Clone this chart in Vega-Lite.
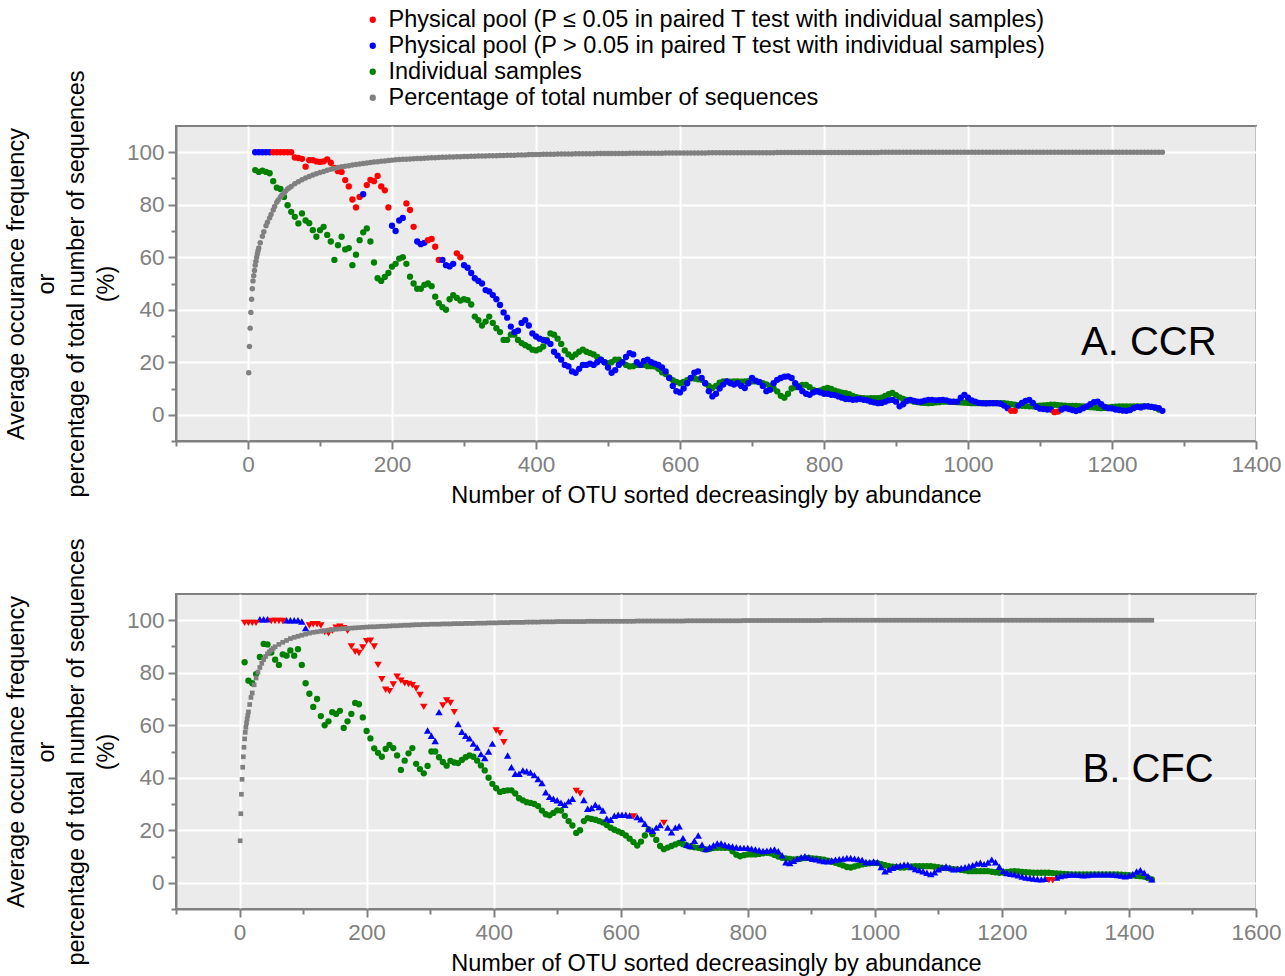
{
"$schema":"https://vega.github.io/schema/vega-lite/v6.json",
"padding":{"left":3,"top":8,"right":5,"bottom":3},
"config":{
"view":{"fill":"#EBEBEB","stroke":"#808080","strokeWidth":2},
"axis":{"domainColor":"#808080","domainWidth":2,"tickColor":"#808080","tickWidth":2,"labelColor":"#808080","labelFont":"Liberation Sans","labelFontSize":22.5,"titleFont":"Liberation Sans","titleFontSize":23.5,"titleFontWeight":"normal","titleColor":"#000000","gridColor":"#FFFFFF","gridWidth":2,"labelPadding":4,"tickSize":8,"labelOverlap":false,"labelFlush":false},
"legend":{"title":null,"symbolType":"circle","symbolSize":40,"labelFont":"Liberation Sans","labelFontSize":23.5,"labelColor":"#000000","rowPadding":1,"labelOffset":4,"labelLimit":0,"padding":0},
"circle":{"opacity":1},"square":{"opacity":1},"point":{"opacity":1,"filled":true}
},
"resolve":{"scale":{"color":"shared"},"legend":{"color":"shared"}},
"spacing":153,
"bounds":"flush",
"datasets":{
"A":[
{"x":1,"g":16},{"x":2,"g":26},{"x":3,"g":33},{"x":4,"g":39},{"x":5,"g":44},{"x":6,"g":48},{"x":7,"g":51},{"x":8,"g":53},{"x":9,"g":55},
{"x":11,"g":58.5},{"x":12,"g":60},{"x":13,"g":61.3},{"x":14,"g":62.5},{"x":17,"g":65.5},{"x":22,"g":69.7},{"x":27,"g":73.3},{"x":32,"g":76.3},{"x":37,"g":79.3},{"x":42,"g":81.8},{"x":47,"g":83.6},{"x":52,"g":85.1},{"x":57,"g":86.4},
{"x":10,"s":"b","p":100,"i":93.2,"g":57},
{"x":15,"s":"b","p":100,"i":92.5,"g":63.5},
{"x":20,"s":"b","p":100,"i":93,"g":68},
{"x":25,"s":"b","p":100,"i":92.5,"g":72},
{"x":30,"s":"b","p":100,"i":92,"g":75},
{"x":35,"s":"r","p":100,"i":89,"g":78},
{"x":40,"s":"r","p":100,"i":86.5,"g":81},
{"x":45,"s":"r","p":100,"i":86,"g":83},
{"x":50,"s":"r","p":100,"i":83,"g":84.5},
{"x":55,"s":"r","p":100,"i":79.8,"g":86},
{"x":60,"s":"r","p":100,"i":77.3,"g":87},
{"x":65,"s":"r","p":98,"i":75.4,"g":88},
{"x":70,"s":"r","p":97.8,"i":72.9,"g":88.8},
{"x":75,"s":"r","p":97.5,"i":76.7,"g":89.5},
{"x":80,"s":"r","p":94.5,"i":74,"g":90.2},
{"x":85,"s":"r","p":97,"i":73,"g":90.8},
{"x":90,"s":"r","p":97,"i":70.3,"g":91.3},
{"x":95,"s":"r","p":96.5,"i":67.8,"g":91.8},
{"x":100,"s":"r","p":96.3,"i":70.3,"g":92.3},
{"x":105,"s":"r","p":96.5,"i":71.6,"g":92.7},
{"x":110,"s":"r","p":97.3,"i":68.5,"g":93.1},
{"x":115,"s":"r","p":96,"i":66,"g":93.5},
{"x":120,"s":"r","p":94,"i":59,"g":93.8},
{"x":125,"s":"r","p":92.8,"i":64.6,"g":94.2},
{"x":130,"s":"r","p":92.5,"i":67.8,"g":94.5},
{"x":135,"s":"r","p":89.4,"i":63,"g":94.7},
{"x":140,"s":"r","p":87,"i":63.5,"g":94.9},
{"x":145,"s":"r","p":82,"i":57,"g":95.1},
{"x":150,"s":"r","p":79,"i":61,"g":95.3},
{"x":155,"s":"r","p":83,"i":66.5,"g":95.5},
{"x":160,"s":"b","p":84,"i":69.5,"g":95.7},
{"x":165,"s":"r","p":87.5,"i":71,"g":95.9},
{"x":170,"s":"r","p":89.5,"i":66,"g":96.1},
{"x":175,"s":"r","p":89,"i":58,"g":96.3},
{"x":180,"s":"r","p":91,"i":52,"g":96.4},
{"x":185,"s":"r","p":87,"i":51,"g":96.6},
{"x":190,"s":"r","p":85.5,"i":52.5,"g":96.7},
{"x":195,"s":"r","p":79,"i":54,"g":96.9},
{"x":200,"s":"b","p":72,"i":56.4,"g":97},
{"x":205,"s":"b","p":70,"i":57.5,"g":97.1},
{"x":210,"s":"b","p":74,"i":59.5,"g":97.2},
{"x":215,"s":"b","p":75,"i":60,"g":97.3},
{"x":220,"s":"r","p":80.5,"i":57.5,"g":97.3},
{"x":225,"s":"r","p":78,"i":52.6,"g":97.4},
{"x":230,"s":"r","p":71.6,"i":50,"g":97.5},
{"x":235,"s":"b","p":66,"i":48,"g":97.6},
{"x":240,"s":"b","p":65,"i":48,"g":97.6},
{"x":245,"s":"b","p":65.5,"i":49.5,"g":97.7},
{"x":250,"s":"r","p":66.5,"i":50,"g":97.8},
{"x":255,"s":"r","p":67,"i":49,"g":97.9},
{"x":260,"s":"r","p":64,"i":45,"g":97.9},
{"x":265,"s":"r","p":59,"i":42.5,"g":98},
{"x":270,"s":"b","p":59,"i":41,"g":98.1},
{"x":275,"s":"b","p":57,"i":40,"g":98.1},
{"x":280,"s":"b","p":56.5,"i":44,"g":98.2},
{"x":285,"s":"b","p":57.5,"i":45.6,"g":98.2},
{"x":290,"s":"r","p":61.5,"i":44.5,"g":98.3},
{"x":295,"s":"r","p":60,"i":43.5,"g":98.3},
{"x":300,"s":"b","p":57,"i":44,"g":98.4},
{"x":305,"s":"b","p":56,"i":43.7,"g":98.4},
{"x":310,"s":"b","p":54,"i":42,"g":98.5},
{"x":315,"s":"b","p":52,"i":37.4,"g":98.5},
{"x":320,"s":"b","p":51,"i":36,"g":98.6},
{"x":325,"s":"b","p":50,"i":34,"g":98.6},
{"x":330,"s":"b","p":47.5,"i":35.5,"g":98.6},
{"x":335,"s":"b","p":47,"i":37.4,"g":98.7},
{"x":340,"s":"b","p":45.6,"i":35,"g":98.7},
{"x":345,"s":"b","p":44,"i":33,"g":98.7},
{"x":350,"s":"b","p":41.8,"i":31.5,"g":98.8},
{"x":355,"s":"b","p":39,"i":28.5,"g":98.8},
{"x":360,"s":"b","p":37,"i":28.5,"g":98.9},
{"x":365,"s":"b","p":33.6,"i":30.5,"g":98.9},
{"x":370,"s":"b","p":31.5,"i":30.5,"g":98.9},
{"x":375,"s":"b","p":32,"i":28.5,"g":99},
{"x":380,"s":"b","p":35,"i":27.3,"g":99},
{"x":385,"s":"b","p":36,"i":26.5,"g":99},
{"x":390,"s":"b","p":34,"i":25.8,"g":99.1},
{"x":395,"s":"b","p":31,"i":24.8,"g":99.1},
{"x":400,"s":"b","p":29.8,"i":24.5,"g":99.1},
{"x":405,"s":"b","p":29,"i":25,"g":99.1},
{"x":410,"s":"b","p":28.5,"i":26,"g":99.2},
{"x":415,"s":"b","p":28,"i":28.5,"g":99.2},
{"x":420,"s":"b","p":27,"i":31,"g":99.2},
{"x":425,"s":"b","p":24,"i":30.5,"g":99.2},
{"x":430,"s":"b","p":22.5,"i":29,"g":99.3},
{"x":435,"s":"b","p":21,"i":27,"g":99.3},
{"x":440,"s":"b","p":19,"i":24.5,"g":99.3},
{"x":445,"s":"b","p":18.4,"i":23,"g":99.3},
{"x":450,"s":"b","p":16.5,"i":22,"g":99.3},
{"x":455,"s":"b","p":16,"i":23,"g":99.4},
{"x":460,"s":"b","p":17.5,"i":24,"g":99.4},
{"x":465,"s":"b","p":19,"i":24.8,"g":99.4},
{"x":470,"s":"b","p":19,"i":24,"g":99.4},
{"x":475,"s":"b","p":19.5,"i":23.5,"g":99.4},
{"x":480,"s":"b","p":19,"i":23,"g":99.4},
{"x":485,"s":"b","p":20,"i":22,"g":99.5},
{"x":490,"s":"b","p":21,"i":21,"g":99.5},
{"x":495,"s":"b","p":20,"i":20,"g":99.5},
{"x":500,"s":"b","p":18,"i":19.7,"g":99.5},
{"x":505,"s":"b","p":16,"i":20,"g":99.5},
{"x":510,"s":"b","p":17,"i":21,"g":99.5},
{"x":515,"s":"b","p":19,"i":21,"g":99.5},
{"x":520,"s":"b","p":20,"i":20,"g":99.5},
{"x":525,"s":"b","p":22,"i":19,"g":99.5},
{"x":530,"s":"b","p":23.5,"i":18.4,"g":99.6},
{"x":535,"s":"b","p":23,"i":18.5,"g":99.6},
{"x":540,"s":"b","p":20,"i":19,"g":99.6},
{"x":545,"s":"b","p":19,"i":19,"g":99.6},
{"x":550,"s":"b","p":20.5,"i":19,"g":99.6},
{"x":555,"s":"b","p":21,"i":18.5,"g":99.6},
{"x":560,"s":"b","p":20,"i":18.5,"g":99.6},
{"x":565,"s":"b","p":19.5,"i":18.4,"g":99.6},
{"x":570,"s":"b","p":19,"i":17.5,"g":99.6},
{"x":575,"s":"b","p":18,"i":16.2,"g":99.6},
{"x":580,"s":"b","p":16.5,"i":15.5,"g":99.7},
{"x":585,"s":"b","p":14,"i":14.2,"g":99.7},
{"x":590,"s":"b","p":11,"i":13.2,"g":99.7},
{"x":595,"s":"b","p":9,"i":12.5,"g":99.7},
{"x":600,"s":"b","p":8.5,"i":12,"g":99.7},
{"x":605,"s":"b","p":10,"i":12.5,"g":99.7},
{"x":610,"s":"b","p":12,"i":13.2,"g":99.7},
{"x":615,"s":"b","p":14,"i":13.9,"g":99.7},
{"x":620,"s":"b","p":16,"i":13.8,"g":99.7},
{"x":625,"s":"b","p":16.5,"i":13.5,"g":99.7},
{"x":630,"s":"b","p":14,"i":13.3,"g":99.7},
{"x":635,"s":"b","p":12,"i":12,"g":99.7},
{"x":640,"s":"b","p":9,"i":11,"g":99.8},
{"x":645,"s":"b","p":7,"i":10.2,"g":99.8},
{"x":650,"s":"b","p":8,"i":11,"g":99.8},
{"x":655,"s":"b","p":10,"i":12.2,"g":99.8},
{"x":660,"s":"b","p":11.5,"i":12.7,"g":99.8},
{"x":665,"s":"b","p":12.7,"i":12.7,"g":99.8},
{"x":670,"s":"b","p":12,"i":12.6,"g":99.8},
{"x":675,"s":"b","p":11.5,"i":12.7,"g":99.8},
{"x":680,"s":"b","p":12,"i":12.7,"g":99.8},
{"x":685,"s":"b","p":11,"i":12.6,"g":99.8},
{"x":690,"s":"b","p":10.2,"i":12.7,"g":99.8},
{"x":695,"s":"b","p":12,"i":12.8,"g":99.8},
{"x":700,"s":"b","p":14,"i":12.7,"g":99.8},
{"x":705,"s":"b","p":13,"i":12.7,"g":99.8},
{"x":710,"s":"b","p":12.5,"i":12.4,"g":99.8},
{"x":715,"s":"b","p":11,"i":12,"g":99.8},
{"x":720,"s":"b","p":9,"i":11.6,"g":99.8},
{"x":725,"s":"b","p":9.5,"i":11,"g":99.8},
{"x":730,"s":"b","p":12,"i":10,"g":99.8},
{"x":735,"s":"b","p":13.3,"i":8.9,"g":99.9},
{"x":740,"s":"b","p":14,"i":7.2,"g":99.9},
{"x":745,"s":"b","p":14.5,"i":6.5,"g":99.9},
{"x":750,"s":"b","p":14.6,"i":8,"g":99.9},
{"x":755,"s":"b","p":14,"i":10,"g":99.9},
{"x":760,"s":"b","p":12,"i":10.5,"g":99.9},
{"x":765,"s":"b","p":10.5,"i":11,"g":99.9},
{"x":770,"s":"b","p":9,"i":11.4,"g":99.9},
{"x":775,"s":"b","p":8,"i":11.4,"g":99.9},
{"x":780,"s":"b","p":7.6,"i":10.5,"g":99.9},
{"x":785,"s":"b","p":8.5,"i":9.5,"g":99.9},
{"x":790,"s":"b","p":9,"i":8.9,"g":99.9},
{"x":795,"s":"b","p":8.5,"i":9.3,"g":99.9},
{"x":800,"s":"b","p":8,"i":9.8,"g":99.9},
{"x":805,"s":"b","p":8,"i":10.2,"g":99.9},
{"x":810,"s":"b","p":7.6,"i":9.8,"g":99.9},
{"x":815,"s":"b","p":7.5,"i":9.2,"g":99.9},
{"x":820,"s":"b","p":7,"i":8.8,"g":99.9},
{"x":825,"s":"b","p":6.5,"i":8.4,"g":99.9},
{"x":830,"s":"b","p":6,"i":8.2,"g":99.9},
{"x":835,"s":"b","p":6,"i":7.8,"g":99.9},
{"x":840,"s":"b","p":5.7,"i":7.2,"g":99.9},
{"x":845,"s":"b","p":5.8,"i":6.7,"g":99.9},
{"x":850,"s":"b","p":6,"i":6.4,"g":99.9},
{"x":855,"s":"b","p":5.7,"i":6.3,"g":99.9},
{"x":860,"s":"b","p":5.5,"i":6.2,"g":99.9},
{"x":865,"s":"b","p":5,"i":6.3,"g":99.9},
{"x":870,"s":"b","p":4.7,"i":6.3,"g":99.9},
{"x":875,"s":"b","p":4.4,"i":6.3,"g":99.9},
{"x":880,"s":"b","p":4.5,"i":6.5,"g":100},
{"x":885,"s":"b","p":5,"i":7.2,"g":100},
{"x":890,"s":"b","p":5.5,"i":7.8,"g":100},
{"x":895,"s":"b","p":5.7,"i":8.3,"g":100},
{"x":900,"s":"b","p":5,"i":7.5,"g":100},
{"x":905,"s":"b","p":3.2,"i":6.6,"g":100},
{"x":910,"s":"b","p":4,"i":6,"g":100},
{"x":915,"s":"b","p":5.2,"i":5.7,"g":100},
{"x":920,"s":"b","p":5.7,"i":5.4,"g":100},
{"x":925,"s":"b","p":5.3,"i":5,"g":100},
{"x":930,"s":"b","p":5,"i":4.8,"g":100},
{"x":935,"s":"b","p":5,"i":4.6,"g":100},
{"x":940,"s":"b","p":5.4,"i":4.5,"g":100},
{"x":945,"s":"b","p":5.7,"i":4.4,"g":100},
{"x":950,"s":"b","p":5.7,"i":4.5,"g":100},
{"x":955,"s":"b","p":5.5,"i":4.7,"g":100},
{"x":960,"s":"b","p":5.6,"i":4.8,"g":100},
{"x":965,"s":"b","p":5.7,"i":5,"g":100},
{"x":970,"s":"b","p":5.5,"i":5,"g":100},
{"x":975,"s":"b","p":5,"i":5,"g":100},
{"x":980,"s":"b","p":5,"i":4.9,"g":100},
{"x":985,"s":"b","p":5,"i":4.8,"g":100},
{"x":990,"s":"b","p":6.5,"i":4.7,"g":100},
{"x":995,"s":"b","p":7.6,"i":4.6,"g":100},
{"x":1000,"s":"b","p":6.5,"i":4.5,"g":100},
{"x":1005,"s":"b","p":5.5,"i":4.4,"g":100},
{"x":1010,"s":"b","p":5,"i":4.4,"g":100},
{"x":1015,"s":"b","p":4.5,"i":4.4,"g":100},
{"x":1020,"s":"b","p":4.4,"i":4.4,"g":100},
{"x":1025,"s":"b","p":4.3,"i":4.4,"g":100},
{"x":1030,"s":"b","p":4.4,"i":4.4,"g":100},
{"x":1035,"s":"b","p":4.4,"i":4.4,"g":100},
{"x":1040,"s":"b","p":4.4,"i":4.4,"g":100},
{"x":1045,"s":"b","p":4.2,"i":4.4,"g":100},
{"x":1050,"s":"b","p":3.5,"i":4.4,"g":100},
{"x":1055,"s":"b","p":2.5,"i":4.2,"g":100},
{"x":1060,"s":"r","p":1.5,"i":4,"g":100},
{"x":1065,"s":"r","p":1.5,"i":3.8,"g":100},
{"x":1070,"s":"b","p":3.5,"i":3.6,"g":100},
{"x":1075,"s":"b","p":4.5,"i":3.4,"g":100},
{"x":1080,"s":"b","p":5.3,"i":3.3,"g":100},
{"x":1085,"s":"b","p":5.7,"i":3.2,"g":100},
{"x":1090,"s":"b","p":4.5,"i":3.2,"g":100},
{"x":1095,"s":"b","p":3,"i":3.4,"g":100},
{"x":1100,"s":"b","p":2.3,"i":3.5,"g":100},
{"x":1105,"s":"b","p":2.2,"i":3.6,"g":100},
{"x":1110,"s":"b","p":2,"i":3.7,"g":100},
{"x":1115,"s":"b","p":2,"i":3.8,"g":100},
{"x":1120,"s":"r","p":1,"i":3.8,"g":100},
{"x":1125,"s":"r","p":1.2,"i":3.7,"g":100},
{"x":1130,"s":"b","p":2,"i":3.6,"g":100},
{"x":1135,"s":"b","p":2.5,"i":3.5,"g":100},
{"x":1140,"s":"b","p":2.2,"i":3.4,"g":100},
{"x":1145,"s":"b","p":1.8,"i":3.4,"g":100},
{"x":1150,"s":"b","p":1.4,"i":3.4,"g":100},
{"x":1155,"s":"b","p":1.8,"i":3.3,"g":100},
{"x":1160,"s":"b","p":2.5,"i":3.2,"g":100},
{"x":1165,"s":"b","p":3.2,"i":3,"g":100},
{"x":1170,"s":"b","p":4,"i":2.9,"g":100},
{"x":1175,"s":"b","p":4.8,"i":2.8,"g":100},
{"x":1180,"s":"b","p":5,"i":2.6,"g":100},
{"x":1185,"s":"b","p":4,"i":2.5,"g":100},
{"x":1190,"s":"b","p":3,"i":2.6,"g":100},
{"x":1195,"s":"b","p":2.5,"i":2.8,"g":100},
{"x":1200,"s":"b","p":2.4,"i":3,"g":100},
{"x":1205,"s":"b","p":2,"i":3.1,"g":100},
{"x":1210,"s":"b","p":1.8,"i":3.2,"g":100},
{"x":1215,"s":"b","p":1.6,"i":3.2,"g":100},
{"x":1220,"s":"b","p":1.5,"i":3.2,"g":100},
{"x":1225,"s":"b","p":1.8,"i":3.2,"g":100},
{"x":1230,"s":"b","p":2.5,"i":3.2,"g":100},
{"x":1235,"s":"b","p":3,"i":3.2,"g":100},
{"x":1240,"s":"b","p":2.8,"i":3.2,"g":100},
{"x":1245,"s":"b","p":3.2,"i":3.2,"g":100},
{"x":1250,"s":"b","p":3.2,"i":3.2,"g":100},
{"x":1255,"s":"b","p":3,"i":3,"g":100},
{"x":1260,"s":"b","p":2.8,"i":2.6,"g":100},
{"x":1265,"s":"b","p":2.5,"i":2,"g":100},
{"x":1270,"s":"b","p":1.5,"g":100}
],
"B":[
{"x":1,"g":16},{"x":2,"g":26.3},{"x":3,"g":33.7},{"x":4,"g":39.4},{"x":5,"g":44},{"x":6,"g":48},{"x":7,"g":51.6},{"x":9,"g":57.3},{"x":10,"g":59.2},{"x":11,"g":60.9},{"x":12,"g":62.4},{"x":13,"g":63.8},{"x":16,"g":67.9},{"x":18,"g":70.6},{"x":23,"g":75.4},{"x":29,"g":80.2},{"x":35,"g":83.6},{"x":41,"g":86.2},{"x":47,"g":88},{"x":53,"g":89.3},
{"x":8,"s":"r","p":99,"i":84,"g":54.8},
{"x":14,"s":"r","p":99,"i":77,"g":65.1},
{"x":20,"s":"r","p":99,"i":76,"g":72.3},
{"x":26,"s":"r","p":99,"i":79.5,"g":78},
{"x":32,"s":"b","p":100.4,"i":86,"g":82},
{"x":38,"s":"b","p":100.4,"i":91,"g":85},
{"x":44,"s":"b","p":100.4,"i":90.8,"g":87.2},
{"x":50,"s":"r","p":99.7,"i":87.7,"g":88.7},
{"x":56,"s":"r","p":99.7,"i":85,"g":89.9},
{"x":62,"s":"r","p":99.7,"i":83,"g":90.8},
{"x":68,"s":"r","p":99.7,"i":87,"g":91.6},
{"x":74,"s":"b","p":100,"i":86.5,"g":92.3},
{"x":80,"s":"b","p":100,"i":88.5,"g":93},
{"x":86,"s":"b","p":100,"i":86.5,"g":93.5},
{"x":92,"s":"b","p":100,"i":89,"g":93.9},
{"x":98,"s":"b","p":99.5,"i":83,"g":94.3},
{"x":104,"s":"b","p":97,"i":76,"g":94.7},
{"x":110,"s":"r","p":98,"i":72,"g":95.1},
{"x":116,"s":"r","p":98.5,"i":67,"g":95.4},
{"x":122,"s":"r","p":98.5,"i":70,"g":95.6},
{"x":128,"s":"r","p":98,"i":63.5,"g":95.8},
{"x":134,"s":"r","p":95.5,"i":60,"g":96},
{"x":140,"s":"r","p":95,"i":61.5,"g":96.2},
{"x":146,"s":"r","p":96,"i":65,"g":96.4},
{"x":152,"s":"r","p":97.2,"i":64.3,"g":96.6},
{"x":158,"s":"r","p":97.5,"i":65.5,"g":96.7},
{"x":164,"s":"r","p":97,"i":59,"g":96.8},
{"x":170,"s":"r","p":96,"i":61.5,"g":96.9},
{"x":176,"s":"r","p":90,"i":64.3,"g":97},
{"x":182,"s":"r","p":88,"i":68.5,"g":97.1},
{"x":188,"s":"r","p":87.5,"i":68,"g":97.2},
{"x":194,"s":"r","p":89.6,"i":63,"g":97.3},
{"x":200,"s":"r","p":92,"i":57.8,"g":97.4},
{"x":206,"s":"r","p":92.2,"i":55,"g":97.5},
{"x":212,"s":"r","p":90,"i":51.2,"g":97.5},
{"x":218,"s":"r","p":83,"i":49.5,"g":97.6},
{"x":224,"s":"r","p":77.5,"i":48,"g":97.7},
{"x":230,"s":"r","p":73.5,"i":51,"g":97.7},
{"x":236,"s":"r","p":73,"i":52.5,"g":97.8},
{"x":242,"s":"r","p":75.5,"i":51.3,"g":97.9},
{"x":248,"s":"r","p":78.5,"i":48.5,"g":97.9},
{"x":254,"s":"r","p":77,"i":43,"g":98},
{"x":260,"s":"r","p":76,"i":46.5,"g":98.1},
{"x":266,"s":"r","p":75.7,"i":49.3,"g":98.1},
{"x":272,"s":"r","p":75.3,"i":51.3,"g":98.2},
{"x":278,"s":"r","p":74,"i":45.3,"g":98.3},
{"x":284,"s":"r","p":71.5,"i":43.3,"g":98.3},
{"x":290,"s":"r","p":67,"i":41.7,"g":98.4},
{"x":296,"s":"b","p":58,"i":44.5,"g":98.4},
{"x":302,"s":"b","p":56,"i":50,"g":98.5},
{"x":308,"s":"b","p":54,"i":50,"g":98.5},
{"x":314,"s":"b","p":65,"i":47.8,"g":98.5},
{"x":320,"s":"r","p":67.5,"i":46,"g":98.6},
{"x":326,"s":"r","p":69.4,"i":44.6,"g":98.6},
{"x":332,"s":"r","p":68.5,"i":46.4,"g":98.6},
{"x":338,"s":"r","p":65,"i":45.8,"g":98.7},
{"x":344,"s":"b","p":60.5,"i":45.6,"g":98.7},
{"x":350,"s":"b","p":57.5,"i":46.8,"g":98.7},
{"x":356,"s":"b","p":56,"i":47.8,"g":98.8},
{"x":362,"s":"b","p":55,"i":48.5,"g":98.8},
{"x":368,"s":"b","p":53,"i":48,"g":98.8},
{"x":374,"s":"b","p":51.5,"i":46.5,"g":98.9},
{"x":380,"s":"b","p":49,"i":44.7,"g":98.9},
{"x":386,"s":"b","p":47.5,"i":42.8,"g":98.9},
{"x":392,"s":"b","p":50,"i":40,"g":99},
{"x":398,"s":"b","p":53,"i":37.7,"g":99},
{"x":404,"s":"r","p":58,"i":36,"g":99},
{"x":410,"s":"r","p":57,"i":34.6,"g":99.1},
{"x":416,"s":"r","p":53.5,"i":35,"g":99.1},
{"x":422,"s":"b","p":48.5,"i":35.2,"g":99.1},
{"x":428,"s":"b","p":44,"i":35.2,"g":99.2},
{"x":434,"s":"b","p":41.5,"i":34,"g":99.2},
{"x":440,"s":"b","p":41.5,"i":32.2,"g":99.2},
{"x":446,"s":"b","p":42.8,"i":31.4,"g":99.2},
{"x":452,"s":"b","p":42.5,"i":30.7,"g":99.3},
{"x":458,"s":"b","p":42,"i":30.4,"g":99.3},
{"x":464,"s":"b","p":41,"i":30,"g":99.3},
{"x":470,"s":"b","p":39.5,"i":29.2,"g":99.3},
{"x":476,"s":"b","p":38,"i":27.5,"g":99.4},
{"x":482,"s":"b","p":34.5,"i":26.1,"g":99.4},
{"x":488,"s":"b","p":32.7,"i":25.7,"g":99.4},
{"x":494,"s":"b","p":32,"i":26.6,"g":99.4},
{"x":500,"s":"b","p":31.4,"i":27.6,"g":99.5},
{"x":506,"s":"b","p":30.5,"i":27.5,"g":99.5},
{"x":512,"s":"b","p":29.7,"i":25.5,"g":99.5},
{"x":518,"s":"b","p":31,"i":23.5,"g":99.5},
{"x":524,"s":"b","p":32,"i":21.8,"g":99.5},
{"x":530,"s":"r","p":35,"i":19,"g":99.5},
{"x":536,"s":"r","p":34,"i":20,"g":99.5},
{"x":542,"s":"b","p":31.5,"i":23.5,"g":99.5},
{"x":548,"s":"b","p":28.2,"i":24.6,"g":99.6},
{"x":554,"s":"b","p":28.5,"i":24.3,"g":99.6},
{"x":560,"s":"b","p":29.7,"i":24,"g":99.6},
{"x":566,"s":"b","p":28.8,"i":23.5,"g":99.6},
{"x":572,"s":"b","p":27.5,"i":23,"g":99.6},
{"x":578,"s":"b","p":24.5,"i":22,"g":99.6},
{"x":584,"s":"b","p":24,"i":21,"g":99.6},
{"x":590,"s":"b","p":25.5,"i":20.2,"g":99.6},
{"x":596,"s":"b","p":25.9,"i":19.6,"g":99.6},
{"x":602,"s":"b","p":25.9,"i":19,"g":99.6},
{"x":608,"s":"b","p":25.9,"i":18,"g":99.6},
{"x":614,"s":"b","p":25.6,"i":16.8,"g":99.6},
{"x":620,"s":"r","p":25.3,"i":15.5,"g":99.6},
{"x":626,"s":"b","p":25,"i":14.2,"g":99.7},
{"x":632,"s":"b","p":24.2,"i":15.7,"g":99.7},
{"x":638,"s":"b","p":22.5,"i":18,"g":99.7},
{"x":644,"s":"b","p":20.5,"i":20.3,"g":99.7},
{"x":650,"s":"b","p":19.8,"i":18.5,"g":99.7},
{"x":656,"s":"b","p":21,"i":16.3,"g":99.7},
{"x":662,"s":"b","p":22,"i":14,"g":99.7},
{"x":668,"s":"r","p":22.8,"i":12.8,"g":99.7},
{"x":674,"s":"b","p":21,"i":13.4,"g":99.7},
{"x":680,"s":"b","p":19.2,"i":14,"g":99.7},
{"x":686,"s":"b","p":21,"i":14.6,"g":99.7},
{"x":692,"s":"b","p":21.5,"i":15.2,"g":99.7},
{"x":698,"s":"b","p":17,"i":14.7,"g":99.7},
{"x":704,"s":"b","p":14.5,"i":14.2,"g":99.8},
{"x":710,"s":"b","p":14,"i":13.8,"g":99.8},
{"x":716,"s":"b","p":16,"i":13.5,"g":99.8},
{"x":722,"s":"b","p":18,"i":13.3,"g":99.8},
{"x":728,"s":"b","p":14.5,"i":13,"g":99.8},
{"x":734,"s":"b","p":12.8,"i":12.7,"g":99.8},
{"x":740,"s":"b","p":13.5,"i":12.9,"g":99.8},
{"x":746,"s":"b","p":14.3,"i":13.2,"g":99.8},
{"x":752,"s":"b","p":15,"i":13.3,"g":99.8},
{"x":758,"s":"b","p":15,"i":13.3,"g":99.8},
{"x":764,"s":"b","p":14.5,"i":13.3,"g":99.8},
{"x":770,"s":"b","p":14,"i":13.3,"g":99.8},
{"x":776,"s":"b","p":13.8,"i":12,"g":99.8},
{"x":782,"s":"b","p":13.5,"i":10.7,"g":99.8},
{"x":788,"s":"b","p":13.3,"i":10.1,"g":99.8},
{"x":794,"s":"b","p":13.3,"i":10.5,"g":99.9},
{"x":800,"s":"b","p":13.3,"i":10.8,"g":99.9},
{"x":806,"s":"b","p":13,"i":10.8,"g":99.9},
{"x":812,"s":"b","p":12.7,"i":10.8,"g":99.9},
{"x":818,"s":"b","p":12.4,"i":11,"g":99.9},
{"x":824,"s":"b","p":12.1,"i":11.2,"g":99.9},
{"x":830,"s":"b","p":12.2,"i":11.4,"g":99.9},
{"x":836,"s":"b","p":12.5,"i":11.2,"g":99.9},
{"x":842,"s":"b","p":12.7,"i":10.6,"g":99.9},
{"x":848,"s":"b","p":12,"i":10,"g":99.9},
{"x":854,"s":"b","p":10.5,"i":9.5,"g":99.9},
{"x":860,"s":"b","p":7.8,"i":9.3,"g":99.9},
{"x":866,"s":"b","p":7.5,"i":9.1,"g":99.9},
{"x":872,"s":"b","p":8.4,"i":8.9,"g":99.9},
{"x":878,"s":"b","p":9.2,"i":9,"g":99.9},
{"x":884,"s":"b","p":9.7,"i":9.2,"g":99.9},
{"x":890,"s":"b","p":10.1,"i":9.4,"g":99.9},
{"x":896,"s":"b","p":9.6,"i":9.5,"g":99.9},
{"x":902,"s":"b","p":9.1,"i":9.3,"g":99.9},
{"x":908,"s":"b","p":8.9,"i":9.2,"g":99.9},
{"x":914,"s":"b","p":8.6,"i":9,"g":99.9},
{"x":920,"s":"b","p":8.3,"i":8.8,"g":100},
{"x":926,"s":"b","p":8.2,"i":8.4,"g":100},
{"x":932,"s":"b","p":8.5,"i":8,"g":100},
{"x":938,"s":"b","p":8.8,"i":7.6,"g":100},
{"x":944,"s":"b","p":9,"i":7.1,"g":100},
{"x":950,"s":"b","p":9.2,"i":6.6,"g":100},
{"x":956,"s":"b","p":9.4,"i":6,"g":100},
{"x":962,"s":"b","p":9.4,"i":5.8,"g":100},
{"x":968,"s":"b","p":9.2,"i":6.2,"g":100},
{"x":974,"s":"b","p":9,"i":6.6,"g":100},
{"x":980,"s":"b","p":8.7,"i":7,"g":100},
{"x":986,"s":"b","p":7.9,"i":7.2,"g":100},
{"x":992,"s":"b","p":7.8,"i":7.4,"g":100},
{"x":998,"s":"b","p":8.1,"i":7.5,"g":100},
{"x":1004,"s":"b","p":7.8,"i":7.5,"g":100},
{"x":1010,"s":"b","p":6,"i":7.1,"g":100},
{"x":1016,"s":"b","p":4.4,"i":6.7,"g":100},
{"x":1022,"s":"b","p":5,"i":6.3,"g":100},
{"x":1028,"s":"b","p":5.7,"i":6.1,"g":100},
{"x":1034,"s":"b","p":6.3,"i":6,"g":100},
{"x":1040,"s":"b","p":6.6,"i":5.8,"g":100},
{"x":1046,"s":"b","p":6.9,"i":5.8,"g":100},
{"x":1052,"s":"b","p":6.9,"i":6,"g":100},
{"x":1058,"s":"b","p":6,"i":6.2,"g":100},
{"x":1064,"s":"b","p":5.2,"i":6.3,"g":100},
{"x":1070,"s":"b","p":4.8,"i":6.3,"g":100},
{"x":1076,"s":"b","p":4.4,"i":6.3,"g":100},
{"x":1082,"s":"b","p":3.8,"i":6.3,"g":100},
{"x":1088,"s":"b","p":3.3,"i":6.3,"g":100},
{"x":1094,"s":"b","p":4,"i":6.1,"g":100},
{"x":1100,"s":"b","p":5.1,"i":5.9,"g":100},
{"x":1106,"s":"b","p":5.8,"i":5.7,"g":100},
{"x":1112,"s":"b","p":6.2,"i":5.6,"g":100},
{"x":1118,"s":"b","p":5.7,"i":5.4,"g":100},
{"x":1124,"s":"b","p":5.1,"i":5.2,"g":100},
{"x":1130,"s":"b","p":5.3,"i":5.1,"g":100},
{"x":1136,"s":"b","p":5.6,"i":4.9,"g":100},
{"x":1142,"s":"b","p":5.9,"i":4.7,"g":100},
{"x":1148,"s":"b","p":6.3,"i":4.4,"g":100},
{"x":1154,"s":"b","p":6.7,"i":4.4,"g":100},
{"x":1160,"s":"b","p":7.3,"i":4.4,"g":100},
{"x":1166,"s":"b","p":7.6,"i":4.4,"g":100},
{"x":1172,"s":"b","p":7.1,"i":4.4,"g":100},
{"x":1178,"s":"b","p":7.7,"i":4.4,"g":100},
{"x":1184,"s":"b","p":8.8,"i":4.2,"g":100},
{"x":1190,"s":"b","p":7.8,"i":4,"g":100},
{"x":1196,"s":"b","p":6.1,"i":3.8,"g":100},
{"x":1202,"s":"b","p":4.5,"i":3.9,"g":100},
{"x":1208,"s":"b","p":3.7,"i":4.1,"g":100},
{"x":1214,"s":"b","p":3.4,"i":4.3,"g":100},
{"x":1220,"s":"b","p":3.2,"i":4.4,"g":100},
{"x":1226,"s":"b","p":2.8,"i":4.3,"g":100},
{"x":1232,"s":"b","p":2.4,"i":4.1,"g":100},
{"x":1238,"s":"b","p":2,"i":4,"g":100},
{"x":1244,"s":"b","p":1.8,"i":3.9,"g":100},
{"x":1250,"s":"b","p":1.6,"i":3.8,"g":100},
{"x":1256,"s":"b","p":1.4,"i":3.8,"g":100},
{"x":1262,"s":"b","p":1.3,"i":3.8,"g":100},
{"x":1268,"s":"b","p":1.5,"i":3.8,"g":100},
{"x":1274,"s":"r","p":1,"i":3.8,"g":100},
{"x":1280,"s":"r","p":0.9,"i":3.7,"g":100},
{"x":1286,"s":"b","p":2,"i":3.6,"g":100},
{"x":1292,"s":"b","p":2.6,"i":3.5,"g":100},
{"x":1298,"s":"b","p":2.8,"i":3.4,"g":100},
{"x":1304,"s":"b","p":3,"i":3.3,"g":100},
{"x":1310,"s":"b","p":3.2,"i":3.2,"g":100},
{"x":1316,"s":"b","p":3.1,"i":3.2,"g":100},
{"x":1322,"s":"b","p":3,"i":3.2,"g":100},
{"x":1328,"s":"b","p":2.8,"i":3.2,"g":100},
{"x":1334,"s":"b","p":2.9,"i":3.2,"g":100},
{"x":1340,"s":"b","p":3.1,"i":3.2,"g":100},
{"x":1346,"s":"b","p":3.2,"i":3.2,"g":100},
{"x":1352,"s":"b","p":3.2,"i":3.2,"g":100},
{"x":1358,"s":"b","p":3.2,"i":3.2,"g":100},
{"x":1364,"s":"b","p":3.2,"i":3.2,"g":100},
{"x":1370,"s":"b","p":3.2,"i":3.2,"g":100},
{"x":1376,"s":"b","p":3.1,"i":3.2,"g":100},
{"x":1382,"s":"b","p":2.9,"i":3.2,"g":100},
{"x":1388,"s":"b","p":2.7,"i":3.1,"g":100},
{"x":1394,"s":"b","p":2.5,"i":3,"g":100},
{"x":1400,"s":"b","p":2.7,"i":2.9,"g":100},
{"x":1406,"s":"b","p":3.3,"i":2.8,"g":100},
{"x":1412,"s":"b","p":4.3,"i":2.6,"g":100},
{"x":1418,"s":"b","p":4.8,"i":2.5,"g":100},
{"x":1424,"s":"b","p":3.8,"i":2.3,"g":100},
{"x":1430,"s":"b","p":2.5,"i":1.8,"g":100},
{"x":1436,"s":"b","p":1.3,"i":1.3,"g":100}
]
},
"vconcat":[
{
"width":1080,"height":315,
"data":{"name":"A"},
"transform":[{"fold":["i","p","g"],"as":["key","v"]},{"filter":"isValid(datum.v)"}],
"encoding":{
"x":{"field":"x","type":"quantitative","scale":{"domain":[-100,1400],"nice":false,"zero":false},
"axis":{"values":[-100,0,100,200,300,400,500,600,700,800,900,1000,1100,1200,1300,1400],"format":"d",
"labelExpr":"datum.value % 200 === 0 ? datum.label : ''",
"gridColor":{"condition":{"test":"datum.value % 200 === 0","value":"#FFFFFF"},"value":"transparent"},
"tickSize":{"condition":{"test":"datum.value % 200 === 0","value":8},"value":5},
"title":"Number of OTU sorted decreasingly by abundance","titlePadding":8}},
"y":{"field":"v","type":"quantitative","scale":{"domain":[-10,110],"nice":false,"zero":false},
"axis":{"values":[-10,0,10,20,30,40,50,60,70,80,90,100],
"labelExpr":"datum.value % 20 === 0 && datum.value >= 0 ? datum.label : ''",
"gridColor":{"condition":{"test":"datum.value % 20 === 0 && datum.value >= 0","value":"#FFFFFF"},"value":"transparent"},
"tickSize":{"condition":{"test":"datum.value % 20 === 0","value":8},"value":5},
"title":["Average occurance frequency","or","percentage of total number of sequences","(%)"],"titleLineHeight":30,"titlePadding":8}}
},
"layer":[
{"transform":[{"filter":"datum.key === 'i'"}],
"mark":{"type":"circle","size":40},
"encoding":{"color":{"datum":"g","type":"nominal","scale":{"domain":["r","b","g","k"],"range":["#FF0000","#0000FF","#008000","#808080"]},
"legend":{"orient":"none","legendX":185,"legendY":-118,"direction":"vertical","labelExpr":"datum.value === 'r' ? 'Physical pool (P ≤ 0.05 in paired T test with individual samples)' : datum.value === 'b' ? 'Physical pool (P > 0.05 in paired T test with individual samples)' : datum.value === 'g' ? 'Individual samples' : 'Percentage of total number of sequences'"}}}},
{"transform":[{"filter":"datum.key === 'p'"}],
"mark":{"type":"circle","size":40},
"encoding":{"color":{"field":"s","type":"nominal"}}},
{"transform":[{"filter":"datum.key === 'g'"}],
"mark":{"type":"circle","size":30},
"encoding":{"color":{"datum":"k","type":"nominal"}}},
{"transform":[{"filter":"datum.key === 'g' && datum.x === 1"}],
"mark":{"type":"text","text":"A. CCR","align":"left","baseline":"alphabetic","font":"Liberation Sans","fontSize":40,"color":"#000000"},
"encoding":{"x":{"datum":1157,"type":"quantitative"},"y":{"datum":22.8,"type":"quantitative"}}}
]
},
{
"width":1080,"height":315,
"data":{"name":"B"},
"transform":[{"fold":["i","p","g"],"as":["key","v"]},{"filter":"isValid(datum.v)"}],
"encoding":{
"x":{"field":"x","type":"quantitative","scale":{"domain":[-100,1600],"nice":false,"zero":false},
"axis":{"values":[-100,0,100,200,300,400,500,600,700,800,900,1000,1100,1200,1300,1400,1500,1600],"format":"d",
"labelExpr":"datum.value % 200 === 0 ? datum.label : ''",
"gridColor":{"condition":{"test":"datum.value % 200 === 0","value":"#FFFFFF"},"value":"transparent"},
"tickSize":{"condition":{"test":"datum.value % 200 === 0","value":8},"value":5},
"title":"Number of OTU sorted decreasingly by abundance","titlePadding":8}},
"y":{"field":"v","type":"quantitative","scale":{"domain":[-10,110],"nice":false,"zero":false},
"axis":{"values":[-10,0,10,20,30,40,50,60,70,80,90,100],
"labelExpr":"datum.value % 20 === 0 && datum.value >= 0 ? datum.label : ''",
"gridColor":{"condition":{"test":"datum.value % 20 === 0 && datum.value >= 0","value":"#FFFFFF"},"value":"transparent"},
"tickSize":{"condition":{"test":"datum.value % 20 === 0","value":8},"value":5},
"title":["Average occurance frequency","or","percentage of total number of sequences","(%)"],"titleLineHeight":30,"titlePadding":8}}
},
"layer":[
{"transform":[{"filter":"datum.key === 'i'"}],
"mark":{"type":"circle","size":40},
"encoding":{"color":{"datum":"g","type":"nominal"}}},
{"transform":[{"filter":"datum.key === 'p' && datum.s === 'b'"}],
"mark":{"type":"point","shape":"triangle-up","size":55,"filled":true,"opacity":1},
"encoding":{"color":{"field":"s","type":"nominal"}}},
{"transform":[{"filter":"datum.key === 'p' && datum.s === 'r'"}],
"mark":{"type":"point","shape":"triangle-down","size":55,"filled":true,"opacity":1},
"encoding":{"color":{"field":"s","type":"nominal"}}},
{"transform":[{"filter":"datum.key === 'g'"}],
"mark":{"type":"square","size":22},
"encoding":{"color":{"datum":"k","type":"nominal"}}},
{"transform":[{"filter":"datum.key === 'g' && datum.x === 1"}],
"mark":{"type":"text","text":"B. CFC","align":"left","baseline":"alphabetic","font":"Liberation Sans","fontSize":40,"color":"#000000"},
"encoding":{"x":{"datum":1327,"type":"quantitative"},"y":{"datum":38.4,"type":"quantitative"}}}
]
}
]
}
